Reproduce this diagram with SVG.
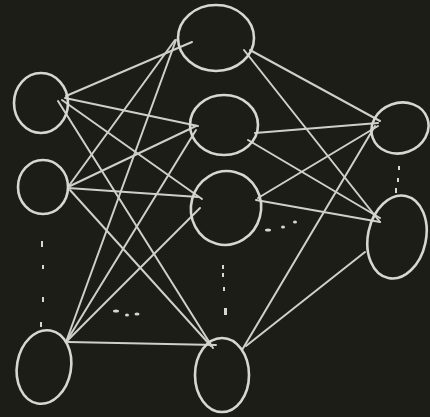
<svg xmlns="http://www.w3.org/2000/svg" width="430" height="417" viewBox="0 0 430 417">
<style>
.n{fill:none;stroke:#d6d7d2;stroke-width:2.6}
.c line{stroke:#cfd0cb;stroke-width:2;stroke-linecap:round}
.d{fill:#d6d7d2}
</style>
<rect width="430" height="417" fill="#1b1d16"/>
<g class="c" id="connectors">
<line x1="66" y1="96" x2="192" y2="42"/>
<line x1="65" y1="98" x2="198" y2="126"/>
<line x1="62" y1="100" x2="202" y2="199"/>
<line x1="58" y1="101" x2="213" y2="348"/>
<line x1="68" y1="187" x2="175" y2="40"/>
<line x1="68" y1="187" x2="196" y2="126"/>
<line x1="68" y1="188" x2="198" y2="197"/>
<line x1="70" y1="190" x2="211" y2="346"/>
<line x1="66" y1="342" x2="176" y2="40"/>
<line x1="66" y1="342" x2="196" y2="130"/>
<line x1="66" y1="342" x2="200" y2="208"/>
<line x1="68" y1="342" x2="216" y2="345"/>
<line x1="250" y1="50" x2="380" y2="121"/>
<line x1="244" y1="50" x2="380" y2="222"/>
<line x1="255" y1="133" x2="378" y2="123"/>
<line x1="248" y1="140" x2="380" y2="218"/>
<line x1="258" y1="198" x2="378" y2="126"/>
<line x1="256" y1="200" x2="380" y2="222"/>
<line x1="242" y1="350" x2="375" y2="126"/>
<line x1="246" y1="346" x2="365" y2="252"/>
</g>
<g id="i1"><ellipse class="n" cx="41" cy="103" rx="27" ry="30"/></g>
<g id="i2"><ellipse class="n" cx="43" cy="187" rx="25" ry="27"/></g>
<g id="i3"><ellipse class="n" cx="44" cy="367" rx="27" ry="37" transform="rotate(10 44 367)"/></g>
<g id="h1"><ellipse class="n" cx="216" cy="38" rx="38" ry="33"/></g>
<g id="h2"><ellipse class="n" cx="224" cy="125" rx="34" ry="30"/></g>
<g id="h3"><ellipse class="n" cx="226" cy="208" rx="35" ry="37" transform="rotate(15 226 208)"/></g>
<g id="h4"><ellipse class="n" cx="222" cy="375" rx="27" ry="37"/></g>
<g id="o1"><ellipse class="n" cx="400" cy="128" rx="29" ry="25" transform="rotate(-20 400 128)"/></g>
<g id="o2"><ellipse class="n" cx="397" cy="237" rx="29" ry="42" transform="rotate(12 397 237)"/></g>
<g id="dots">
<rect class="d" x="41" y="241" width="2" height="6"/>
<rect class="d" x="42" y="265" width="2" height="4"/>
<rect class="d" x="42" y="297" width="2" height="5"/>
<rect class="d" x="40" y="322" width="2" height="5"/>
<rect class="d" x="222" y="265" width="2" height="4"/>
<rect class="d" x="222" y="273" width="2" height="4"/>
<rect class="d" x="223" y="287" width="2" height="4"/>
<rect class="d" x="224" y="308" width="3" height="7"/>
<rect class="d" x="398" y="166" width="2" height="4"/>
<rect class="d" x="397" y="178" width="2" height="4"/>
<rect class="d" x="395" y="188" width="2" height="5"/>
<ellipse class="d" cx="116" cy="311" rx="3" ry="1.5"/>
<ellipse class="d" cx="127" cy="315" rx="2" ry="1.5"/>
<ellipse class="d" cx="137" cy="314" rx="2.5" ry="1.5"/>
<ellipse class="d" cx="268" cy="230" rx="3" ry="1.5"/>
<ellipse class="d" cx="283" cy="227" rx="2" ry="1.5"/>
<ellipse class="d" cx="295" cy="222" rx="2" ry="1.5"/>
</g>
</svg>
